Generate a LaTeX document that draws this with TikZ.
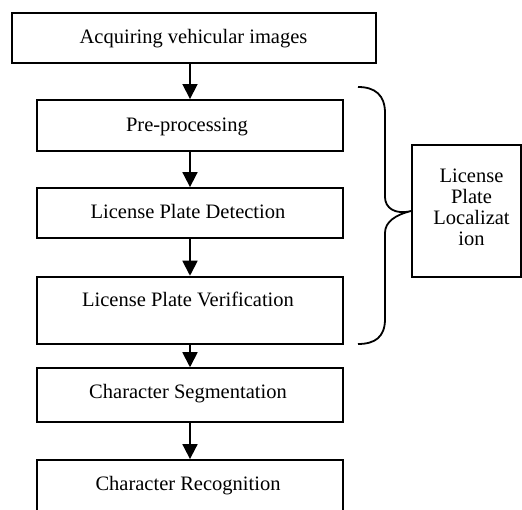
\documentclass[tikz,border=0pt]{standalone}
\usepackage{fontspec}
\setmainfont{Liberation Serif}
\usetikzlibrary{arrows.meta}
\tikzset{
  flowbox/.style={draw, line width=1.8pt, rectangle, inner sep=0pt},
  flowtext/.style={anchor=base, inner sep=0pt, font=\fontsize{20.5}{21}\selectfont},
  flowarrow/.style={line width=1.8pt, -{Triangle[length=15pt,width=15pt]}},
  bracepath/.style={line width=1.8pt}
}
\begin{document}
\begin{tikzpicture}[x=1pt,y=-1pt]
\useasboundingbox (0,0) rectangle (522,510);
\clip (0,0) rectangle (522,510);
% boxes
\node[flowbox, minimum width=364pt, minimum height=50pt] (b1) at (194,37.7) {};
\node[flowbox, minimum width=306pt, minimum height=50.7pt] (b2) at (190,125.3) {};
\node[flowbox, minimum width=306pt, minimum height=50pt] (b3) at (190,213) {};
\node[flowbox, minimum width=306pt, minimum height=67.3pt] (b4) at (190,310.3) {};
\node[flowbox, minimum width=306pt, minimum height=53.7pt] (b5) at (190,395) {};
\node[flowbox, minimum width=306pt, minimum height=70pt] (b6) at (190,495) {};
\node[flowbox, minimum width=109pt, minimum height=132pt] (loc) at (466.5,211) {};
% texts
\node[flowtext] (t1) at (193.5,43.3) {Acquiring vehicular images};
\node[flowtext] (t2) at (187,131.7) {Pre-processing};
\node[flowtext] (t3) at (188,218.3) {License Plate Detection};
\node[flowtext] (t4) at (188,306.7) {License Plate Verification};
\node[flowtext] (t5) at (188,398.3) {Character Segmentation};
\node[flowtext] (t6) at (188,490) {Character Recognition};
\node[flowtext, anchor=north, align=center] (tl) at (471.5,169) {License\\Plate\\Localizat\\ion};
% arrows
\draw[flowarrow] (b2.north |- b1.south) -- (b2.north);
\draw[flowarrow] (b2.south) -- (b3.north);
\draw[flowarrow] (b3.south) -- (b4.north);
\draw[flowarrow] (b4.south) -- (b5.north);
\draw[flowarrow] (b5.south) -- (b6.north);
% brace
\coordinate (btop) at (358,87);
\coordinate (btip) at (loc.west);
\coordinate (bbot) at (358,344);
\draw[bracepath] (btop) .. controls (375,87) and (385,95) .. (385,113)
  -- (385,197) .. controls (385,208) and (395,215) .. (btip)
  .. controls (395,215) and (385,222) .. (385,233)
  -- (385,319) .. controls (385,337) and (375,344) .. (bbot);
\end{tikzpicture}
\end{document}
